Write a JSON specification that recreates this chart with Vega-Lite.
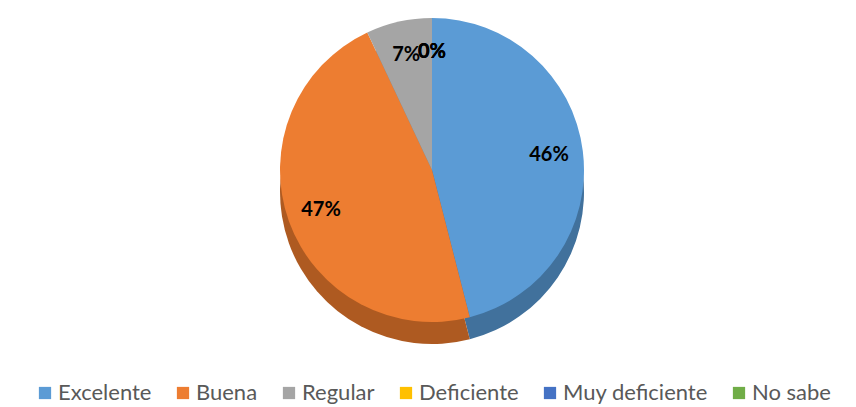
{
  "$schema": "https://vega.github.io/schema/vega-lite/v6.json",
  "width": 848,
  "height": 340,
  "autosize": {"type": "none"},
  "padding": {"left": 8, "top": 0, "right": 0, "bottom": 67},
  "background": "#ffffff",
  "config": {"view": {"stroke": null}},
  "data": {
    "values": [
      {"categoria": "Excelente", "porcentaje": 46, "etiqueta": "46%", "orden": 1},
      {"categoria": "Buena", "porcentaje": 47, "etiqueta": "47%", "orden": 2},
      {"categoria": "Regular", "porcentaje": 7, "etiqueta": "7%", "orden": 3},
      {"categoria": "Deficiente", "porcentaje": 0, "etiqueta": "0%", "orden": 4},
      {"categoria": "Muy deficiente", "porcentaje": 0, "etiqueta": "0%", "orden": 5},
      {"categoria": "No sabe", "porcentaje": 0, "etiqueta": "0%", "orden": 6}
    ]
  },
  "encoding": {
    "theta": {"field": "porcentaje", "type": "quantitative", "stack": true},
    "order": {"field": "orden", "type": "quantitative"}
  },
  "layer": [
    {
      "mark": {"type": "arc", "outerRadius": 152, "yOffset": 22},
      "encoding": {
        "color": {
          "field": "categoria",
          "type": "nominal",
          "scale": {
            "domain": ["Excelente", "Buena", "Regular", "Deficiente", "Muy deficiente", "No sabe"],
            "range": ["#41719C", "#AE5A21", "#7B7B7B", "#BF9000", "#2F5597", "#507E32"]
          },
          "legend": null
        }
      }
    },
    {
      "mark": {"type": "arc", "outerRadius": 152},
      "encoding": {
        "color": {
          "field": "categoria",
          "type": "nominal",
          "sort": ["Excelente", "Buena", "Regular", "Deficiente", "Muy deficiente", "No sabe"],
          "scale": {
            "domain": ["Excelente", "Buena", "Regular", "Deficiente", "Muy deficiente", "No sabe"],
            "range": ["#5B9BD5", "#ED7D31", "#A5A5A5", "#FFC000", "#4472C4", "#70AD47"]
          },
          "legend": {
            "orient": "none",
            "legendX": 26,
            "legendY": 382,
            "direction": "horizontal",
            "title": null,
            "symbolType": "square",
            "symbolSize": 150,
            "symbolStrokeWidth": 0,
            "labelFont": "Lato",
            "labelFontSize": 22,
            "labelColor": "#595959",
            "columnPadding": 20,
            "labelOffset": 2
          }
        }
      }
    },
    {
      "mark": {"type": "text", "radius": 118, "font": "Lato", "fontSize": 20, "fontWeight": "bold", "color": "#000000"},
      "encoding": {
        "text": {"field": "etiqueta", "type": "nominal"}
      }
    }
  ],
  "resolve": {"scale": {"color": "independent"}}
}
